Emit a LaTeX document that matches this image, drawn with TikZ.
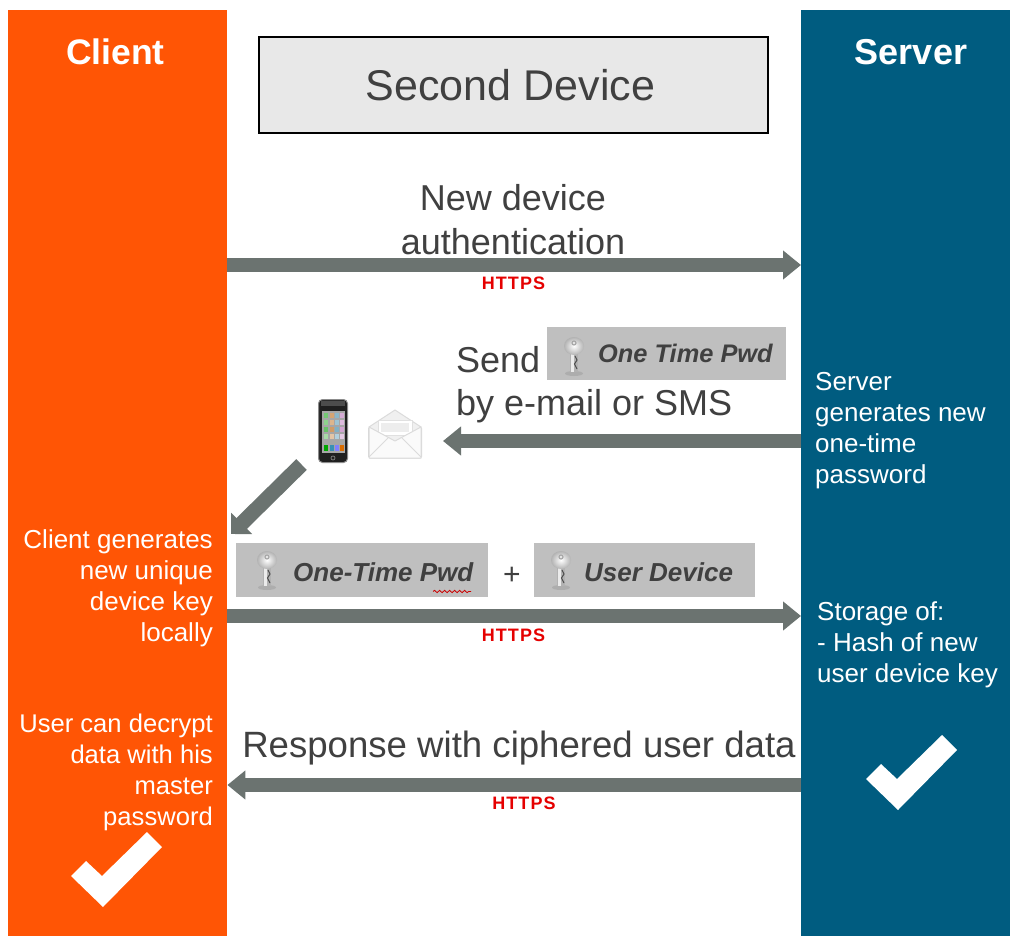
\documentclass[tikz,border=0pt]{standalone}
\usepackage{fontspec}
\setmainfont{Liberation Sans}
\newfontfamily\httpsfont[LetterSpace=6]{Liberation Sans}
\usetikzlibrary{arrows.meta,calc,decorations.pathmorphing}
\definecolor{clientorange}{HTML}{FF5505}
\definecolor{serverblue}{HTML}{005C80}
\definecolor{flowgrey}{HTML}{6B7370}
\definecolor{textgrey}{HTML}{404040}
\definecolor{keybox}{HTML}{BFBFBF}
\tikzset{
  panel/.style={fill=#1,draw=none,inner sep=0pt,anchor=north west},
  flow/.style={draw=flowgrey,line width=14pt,-{Triangle[length=18pt,width=28pt]}},
  headlabel/.style={text=white,font=\bfseries\fontsize{36}{40}\selectfont},
  sidetext/.style={text=white,font=\fontsize{26}{31}\selectfont,inner sep=0pt},
  bigtext/.style={text=textgrey,font=\fontsize{36}{44}\selectfont,inner sep=0pt},
  https/.style={text=red!90!black,font=\httpsfont\bfseries\fontsize{18}{20}\selectfont,inner sep=0pt},
  keytext/.style={text=textgrey,font=\bfseries\itshape\fontsize{26}{30}\selectfont,inner sep=0pt,anchor=west},
  keyrect/.style={fill=keybox,draw=none,inner sep=0pt,anchor=north west},
  checkmark/.style={fill=white,draw=none},
  keyicon/.pic={
    \fill[black!35,opacity=.7] (0,27.5) ellipse (9 and 2.5);
    \fill[black!30] (-4,5) rectangle (4,26);
    \fill[black!8] (-3.5,5) rectangle (-0.5,26);
    \draw[black!70,line width=1pt] (1,10) -- (3,14) -- (0.5,18) -- (3,23);
    \shade[inner color=white,outer color=black!30] (0,0) ellipse (10 and 9);
    \fill[black!35] (0,-3) circle (2.6);
    \fill[black!8] (0,-3) circle (1.3);
  }
}
\begin{document}
\begin{tikzpicture}[x=1pt,y=-1pt]
\useasboundingbox (0,0) rectangle (1010,936);
\fill[white] (0,0) rectangle (1010,936);

% panels
\node[panel=clientorange,minimum width=219pt,minimum height=926pt] (client) at (8,10) {};
\node[panel=serverblue,minimum width=209pt,minimum height=926pt] (server) at (801,10) {};
\node[headlabel,font=\bfseries\fontsize{35.5}{40}\selectfont] (clienttitle) at (115.5,52) {Client};
\node[headlabel] (servertitle) at (911,52) {Server};

% title box
\node[draw=black,line width=1.5pt,fill=black!9,minimum width=509pt,minimum height=96pt,inner sep=0pt,
      text=textgrey,font=\fontsize{43}{48}\selectfont] (title) at (513.5,85) {Second Device\hspace*{6pt}};

% row guides
\coordinate (r1) at (0,265);
\coordinate (r2) at (0,441);
\coordinate (r3) at (0,616);
\coordinate (r4) at (0,785);

% phone
\node[fill=black!88,draw=black!45,line width=1pt,rounded corners=4pt,minimum width=29pt,minimum height=63pt,inner sep=0pt] (phone) at (333,431) {};
\fill[black!70] (321,401) rectangle (345,406);
\fill[black!35] (322,411) rectangle (345,453);
\foreach \cx/\cc in {323.5/green!60!black,329.5/orange!70!black,335/cyan!60!black,340/violet!60!white}{
  \foreach \cy/\cm in {413/55,420/45,427/60,434/35}{\fill[\cc!\cm!white] (\cx,\cy) rectangle ++(4,4.5);}
}
\foreach \cx/\cc in {323.5/green!65!black,329.5/cyan!70!black,335/blue!50!white,340/orange!85!black}{
  \fill[\cc] (\cx,445) rectangle ++(4,6);
}
\draw[black!50,line width=.7pt] (333,458) circle (2);

% envelope
\node[fill=black!3,draw=black!15,line width=1pt,rounded corners=1.5pt,minimum width=53pt,minimum height=31pt,inner sep=0pt] (envelope) at (395,442.5) {};
\path[fill=black!6,draw=black!14,line width=1pt,line join=round] (369,427) -- (395,410) -- (421,427) -- (395,446) -- cycle;
\fill[white,draw=black!12,line width=.7pt] (378,420) rectangle (412,435);
\fill[black!7] (381,423) rectangle (409,432);
\path[fill=black!2,draw=black!14,line width=1pt,line join=round] (369,427) -- (395,441) -- (421,427) -- (421,458) -- (369,458) -- cycle;
\draw[black!14,line width=1pt] (369,457) -- (388,438);
\draw[black!14,line width=1pt] (421,457) -- (402,438);

% connectors
\draw[flow] (client.east |- r1) -- (server.west |- r1);
\draw[flow] (server.west |- r2) -- ($(envelope.east |- r2)+(21,0)$);
\draw[flow] (client.east |- r3) -- (server.west |- r3);
\draw[flow] (server.west |- r4) -- (client.east |- r4);
\coordinate (diagstart) at (301.5,464.5);
\coordinate (diagend) at (231,534);
\draw[draw=flowgrey,line width=15pt,-{Triangle[length=15pt,width=29pt]}] (diagstart) -- (diagend);

% labels on connectors
\node[bigtext,align=center] (newdevice) at (513,219.5) {New device\\authentication};
\node[https] (https1) at (513.5,283) {HTTPS};
\node[https] (https3) at (513.5,635) {HTTPS};
\node[https] (https4) at (524,803) {HTTPS};
\node[bigtext,anchor=west] (send) at (456,360) {Send};
\node[bigtext,anchor=west] (sms) at (456,406) {by e-mail or SMS};
\node[bigtext,font=\fontsize{36.6}{44}\selectfont] (response) at (519,748) {Response with ciphered user data};

% key boxes
\node[keyrect,minimum width=239pt,minimum height=53pt] (otpbox) at (547,327) {};
\pic at (574,346) {keyicon};
\node[keytext,font=\bfseries\itshape\fontsize{25.4}{30}\selectfont] (otptext) at (598,353) {One Time Pwd};

\node[keyrect,minimum width=252pt,minimum height=54pt] (otpbox2) at (236,543) {};
\pic at (267,560) {keyicon};
\node[keytext] (otptext2) at (293,572) {One-Time Pwd};
\draw[red!80!black,line width=.8pt,decorate,decoration={snake,amplitude=1.2pt,segment length=5pt}] (433,591.5) -- (471,591.5);

\node[text=textgrey,font=\fontsize{30}{34}\selectfont,inner sep=0pt] (plus) at (512,576) {+};

\node[keyrect,minimum width=221pt,minimum height=54pt] (devbox) at (534,543) {};
\pic at (561,560) {keyicon};
\node[keytext] (devtext) at (584,572) {User Device};

% side texts
\node[sidetext,align=right,anchor=east] (clientgen) at (213,588) {Client generates\\new unique\\device key\\locally};
\node[sidetext,align=right,anchor=east,font=\fontsize{25.6}{31}\selectfont] (decrypt) at (213,772.5) {User can decrypt\\data with his\\master\\password};
\node[sidetext,align=left,anchor=west] (servergen) at (815,430.5) {Server\\generates new\\one-time\\password};
\node[sidetext,align=left,anchor=west] (storage) at (817,645) {Storage of:\\- Hash of new\\user device key};

% check marks
\fill[checkmark] (71,876) -- (86,861) -- (102,876) -- (147,832) -- (162,847) -- (103,907) -- cycle;
\fill[checkmark] (866,779) -- (881,764) -- (897,779) -- (942,735) -- (957,750) -- (898,810) -- cycle;
\end{tikzpicture}
\end{document}
